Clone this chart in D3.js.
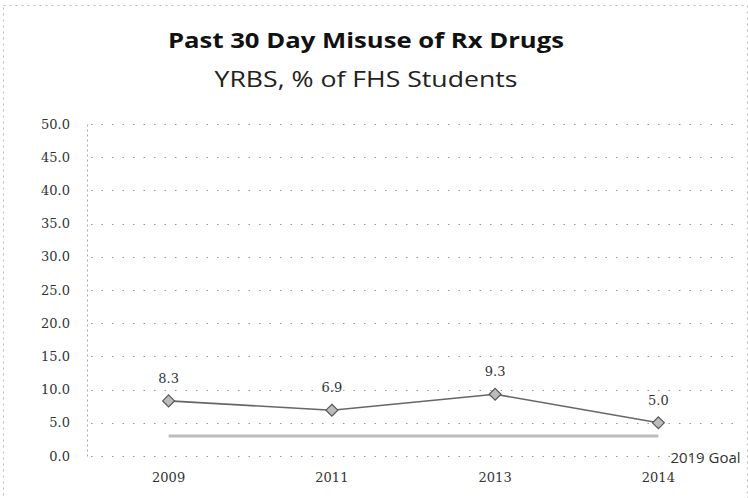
<!DOCTYPE html>
<html>
<head>
<meta charset="utf-8">
<script src="https://cdn.jsdelivr.net/npm/d3@7"></script>
<style>
  html, body { margin: 0; padding: 0; background: #fff; }
  svg { display: block; }
</style>
</head>
<body>
<svg id="chart" width="748" height="498"></svg>
<script>
// Survey years and the share of students reporting misuse (%)
const years = ["2009", "2011", "2013", "2014"];
const misuse = [8.3, 6.9, 9.3, 5.0];
// Target level for 2019
const goalValue = 3.0;
const goalLabel = "2019 Goal";
const yTicks = [0, 5, 10, 15, 20, 25, 30, 35, 40, 45, 50];

const svg = d3.select("#chart");
const W = 748, H = 498;
const margin = { left: 87, right: 8, top: 124, bottom: 42 };

// Faint outer frame of the chart area
svg.append("rect")
  .attr("x", 3.5).attr("y", 5.5)
  .attr("width", W - 4).attr("height", H - 4)
  .attr("fill", "none")
  .attr("stroke", "#bbb")
  .attr("stroke-dasharray", "2,4");

const x = d3.scaleBand().domain(years)
  .range([margin.left, W - margin.right]);
const y = d3.scaleLinear().domain([0, 50])
  .range([H - margin.bottom, margin.top]);

// Titles
svg.append("text")
  .attr("x", 366).attr("y", 48)
  .attr("text-anchor", "middle")
  .attr("font-family", "Open Sans, sans-serif")
  .attr("font-weight", "bold")
  .attr("font-size", 22)
  .attr("textLength", 396)
  .attr("lengthAdjust", "spacingAndGlyphs")
  .attr("fill", "#111")
  .text("Past 30 Day Misuse of Rx Drugs");
svg.append("text")
  .attr("x", 366).attr("y", 87)
  .attr("text-anchor", "middle")
  .attr("font-family", "Open Sans, sans-serif")
  .attr("font-size", 21)
  .attr("textLength", 303)
  .attr("lengthAdjust", "spacingAndGlyphs")
  .attr("fill", "#222")
  .text("YRBS, % of FHS Students");

// Dotted horizontal gridlines
svg.append("g")
  .selectAll("line")
  .data(yTicks)
  .join("line")
  .attr("x1", margin.left + 4).attr("x2", W - margin.right)
  .attr("y1", d => Math.round(y(d)) + 0.5)
  .attr("y2", d => Math.round(y(d)) + 0.5)
  .attr("stroke", "#999")
  .attr("stroke-dasharray", "1.5,9");

// Y axis
const yAxis = d3.axisLeft(y)
  .tickValues(yTicks)
  .tickFormat(d3.format(".1f"))
  .tickSize(0)
  .tickPadding(17);
const gy = svg.append("g")
  .attr("transform", `translate(${margin.left},0)`)
  .call(yAxis);
gy.select(".domain")
  .attr("stroke", "#aaa")
  .attr("stroke-dasharray", "2,3");
gy.selectAll("text")
  .attr("font-family", "DejaVu Serif, serif")
  .attr("font-size", 13)
  .attr("fill", "#333");

// X axis labels
const xAxis = d3.axisBottom(x).tickSize(0).tickPadding(17);
const gx = svg.append("g")
  .attr("transform", `translate(0,${H - margin.bottom})`)
  .call(xAxis);
gx.select(".domain").remove();
gx.selectAll("text")
  .attr("font-family", "DejaVu Serif, serif")
  .attr("font-size", 13)
  .attr("fill", "#333");

const cx = d => x(d) + x.bandwidth() / 2;

// Goal line
svg.append("line")
  .attr("x1", cx(years[0])).attr("x2", cx(years[years.length - 1]))
  .attr("y1", y(goalValue)).attr("y2", y(goalValue))
  .attr("stroke", "#bdbdbd")
  .attr("stroke-width", 3);
svg.append("text")
  .attr("x", cx(years[years.length - 1]) + 12)
  .attr("y", y(goalValue) + 27)
  .attr("font-family", "Open Sans, sans-serif")
  .style("font-size", "15px")
  .attr("fill", "#333")
  .text(goalLabel);

// Trend line
const pts = years.map((yr, i) => ({ yr, v: misuse[i] }));
svg.append("path")
  .datum(pts)
  .attr("fill", "none")
  .attr("stroke", "#666")
  .attr("stroke-width", 1.6)
  .attr("d", d3.line().x(d => cx(d.yr)).y(d => y(d.v)));

// Diamond markers
svg.append("g")
  .selectAll("path")
  .data(pts)
  .join("path")
  .attr("transform", d => `translate(${cx(d.yr)},${y(d.v)})`)
  .attr("d", d3.symbol(d3.symbolDiamond2, 90))
  .attr("fill", "#bbb")
  .attr("stroke", "#555")
  .attr("stroke-width", 1.2);

// Value labels
svg.append("g")
  .selectAll("text")
  .data(pts)
  .join("text")
  .attr("x", d => cx(d.yr))
  .attr("y", d => y(d.v) - 18)
  .attr("text-anchor", "middle")
  .attr("font-family", "DejaVu Serif, serif")
  .attr("font-size", 13)
  .attr("fill", "#333")
  .text(d => d3.format(".1f")(d.v));
</script>
</body>
</html>
